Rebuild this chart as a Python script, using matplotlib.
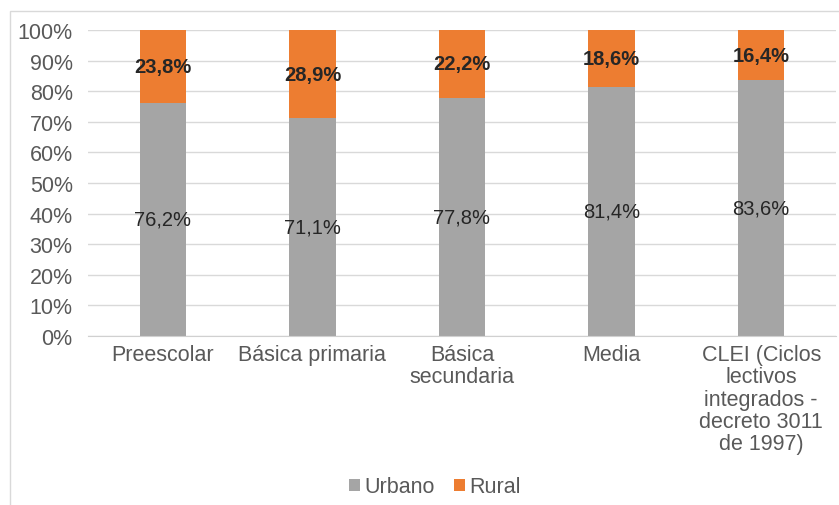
import numpy as np
import matplotlib.pyplot as plt
from matplotlib.patches import Rectangle

categorias = ["Preescolar", "Básica primaria", "Básica\nsecundaria", "Media",
              "CLEI (Ciclos\nlectivos\nintegrados -\ndecreto 3011\nde 1997)"]
urbano = [76.2, 71.1, 77.8, 81.4, 83.6]
rural = [23.8, 28.9, 22.2, 18.6, 16.4]

plt.rcParams['font.family'] = ['Liberation Sans', 'DejaVu Sans']

gris = '#a5a5a5'
naranja = '#ed7d31'
texto = '#595959'

fig = plt.figure(figsize=(8.39, 5.06), dpi=100)
ax = fig.add_axes([88 / 839, 1 - 337 / 506, 748 / 839, 306 / 506])

x = np.arange(len(categorias))
ax.bar(x, urbano, width=0.31, color=gris, label="Urbano", zorder=2)
ax.bar(x, rural, width=0.31, bottom=urbano, color=naranja, label="Rural", zorder=2)

for i in range(len(x)):
    ax.text(x[i], urbano[i] / 2, f"{urbano[i]:.1f}%".replace('.', ','),
            ha='center', va='center', fontsize=14.5, color='#262626', zorder=3)
    ax.text(x[i], urbano[i] + rural[i] / 2, f"{rural[i]:.1f}%".replace('.', ','),
            ha='center', va='center', fontsize=14.5, color='#262626',
            fontweight='bold', zorder=3)

ax.set_xlim(-0.5, 4.5)
ax.set_ylim(0, 100)
ax.set_yticks(np.arange(0, 101, 10))
ax.set_yticklabels([f"{v}%" for v in range(0, 101, 10)])
ax.set_xticks(x)
ax.set_xticklabels(categorias, linespacing=1.07)
ax.tick_params(axis='both', length=0, colors=texto, labelsize=15.5)
ax.tick_params(axis='y', pad=11)
ax.tick_params(axis='x', pad=6)
ax.yaxis.grid(True, color='#d9d9d9', linewidth=1, zorder=0)
ax.set_axisbelow(True)
for s in ['top', 'right', 'left']:
    ax.spines[s].set_visible(False)
ax.spines['bottom'].set_color('#d0d0d0')

fig.patches.append(Rectangle((10 / 839, -0.1), 1.2, 1 - 12 / 506 + 0.1,
                             transform=fig.transFigure, fill=False,
                             edgecolor='#d9d9d9', linewidth=1))

fig.legend(loc='center', bbox_to_anchor=(435 / 839, 1 - 488 / 506), ncol=2,
           frameon=False, fontsize=15.5, labelcolor=texto, handlelength=0.5,
           handleheight=0.5, handletextpad=0.2, columnspacing=0.9)

fig.savefig("out.png", dpi=100)
